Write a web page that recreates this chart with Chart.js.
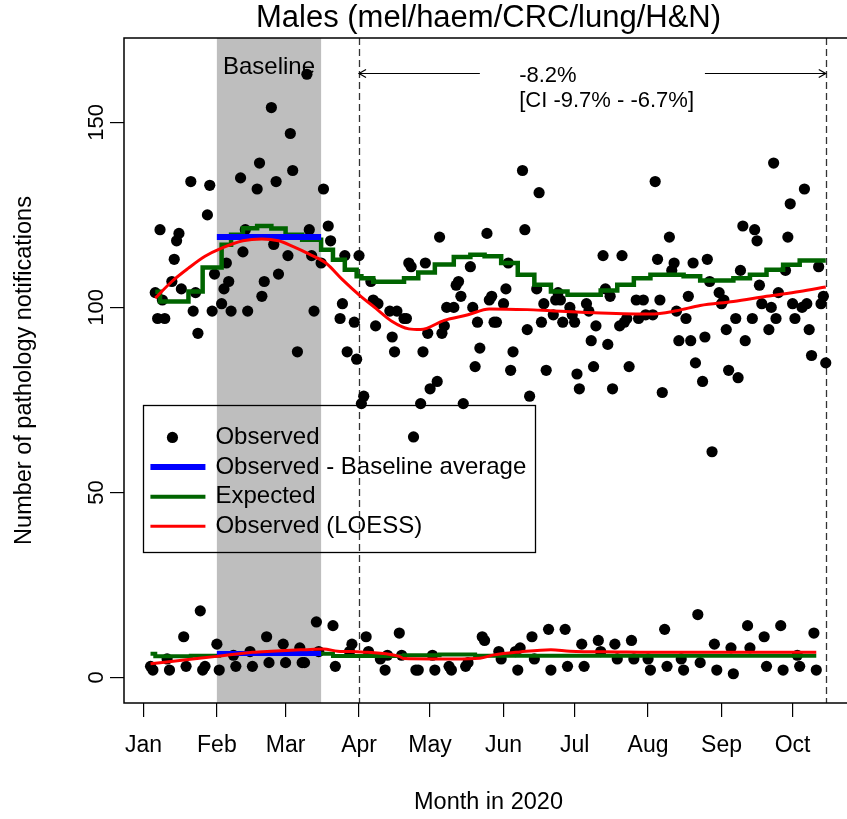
<!DOCTYPE html>
<html>
<head>
<meta charset="utf-8">
<script src="https://cdn.jsdelivr.net/npm/chart.js@4.4.0/dist/chart.umd.min.js"></script>
<style>
  html, body { margin: 0; padding: 0; background: #fff; overflow: hidden; }
</style>
</head>
<body>
<canvas id="myChart" width="860" height="819"></canvas>
<script>
// day of year 2020 (Jan 1 = 0)
var monthStarts = [0, 31, 60, 91, 121, 152, 182, 213, 244, 274];
var monthLabels = ['Jan', 'Feb', 'Mar', 'Apr', 'May', 'Jun', 'Jul', 'Aug', 'Sep', 'Oct'];
var yTicks = [0, 50, 100, 150];

// weekday notifications
var weekdayDays = [5, 6, 7, 8, 9, 12, 13, 14, 15, 16, 20, 21, 22, 23, 27, 28, 29, 30,
  33, 34, 35, 36, 37, 41, 42, 43, 44, 48, 49, 50, 51, 54, 55, 56, 57,
  61, 62, 63, 65, 69, 70, 71, 72, 75, 76, 78, 79, 83, 84, 85, 86, 89, 90, 91, 92, 93,
  96, 97, 98, 99, 104, 105, 106, 107, 110, 111, 112, 113, 114, 117, 118, 119, 120, 121,
  124, 125, 126, 127, 128, 131, 132, 133, 134, 135, 138, 139, 140, 141, 142, 145, 146, 147, 148, 149,
  152, 153, 154, 155, 156, 160, 161, 162, 163, 166, 167, 168, 169, 170, 173, 174, 175, 176, 177,
  180, 181, 182, 183, 184, 187, 188, 189, 190, 191, 194, 195, 196, 197, 198, 201, 202, 203, 204, 205,
  208, 209, 211, 212, 215, 216, 217, 218, 219, 222, 223, 224, 225, 226, 229, 230, 231, 232, 233,
  236, 237, 238, 239, 240, 243, 244, 245, 246, 247, 250, 251, 252, 253, 254, 257, 258, 259, 260, 261,
  264, 265, 266, 267, 268, 271, 272, 273, 274, 275, 278, 279, 280, 281, 282, 285, 286, 287, 288];
var weekdayCounts = [104, 97, 121, 102, 97, 107, 113, 118, 120, 105, 134, 99, 104, 93, 125, 133, 99, 109,
  101, 105, 112, 107, 99, 135, 115, 121, 99, 132, 139, 103, 107, 154, 117, 134, 109,
  114, 147, 137, 88, 163, 121, 114, 99, 112, 132, 122, 118, 97, 101, 114, 88, 96, 86, 114, 74, 76,
  107, 102, 95, 101, 99, 92, 88, 99, 97, 97, 112, 111, 65, 74, 88, 112, 93, 78,
  80, 119, 93, 95, 100, 100, 106, 107, 103, 74, 111, 100, 84, 96, 89, 120, 102, 103, 96, 96,
  101, 105, 112, 83, 88, 137, 121, 94, 76, 105, 131, 96, 101, 83, 98, 102, 104, 102, 96,
  100, 98, 96, 82, 78, 101, 99, 91, 84, 95, 114, 105, 90, 103, 78, 95, 114, 96, 97, 84,
  102, 97, 102, 98, 98, 134, 113, 102, 77, 119, 110, 112, 99, 91, 97, 103, 91, 112, 85,
  80, 92, 113, 107, 61, 104, 101, 102, 94, 83, 97, 81, 110, 122, 91, 97, 121, 118, 106, 101,
  94, 100, 139, 97, 104, 110, 119, 128, 101, 97, 100, 132, 101, 94, 87, 111, 101, 103, 85];

// weekend and public holiday notifications
var weekendDays = [3, 4, 10, 11, 17, 18, 24, 25, 26, 31, 32, 38, 39, 45, 46, 52, 53, 59, 60, 66, 67, 68,
  73, 74, 80, 81, 87, 88, 94, 95, 100, 102, 103, 108, 109, 115, 116, 122, 123, 129, 130, 136, 137,
  143, 144, 150, 151, 157, 158, 159, 164, 165, 171, 172, 178, 179, 185, 186, 192, 193, 199, 200,
  206, 207, 213, 214, 220, 221, 227, 228, 234, 235, 241, 242, 248, 249, 255, 256, 262, 263,
  269, 270, 276, 277, 283, 284];
var weekendCounts = [3, 2, 5, 2, 11, 3, 18, 2, 3, 9, 2, 6, 3, 7, 3, 11, 4, 9, 4, 8, 4, 4,
  15, 7, 14, 3, 7, 9, 11, 7, 5, 2, 6, 12, 6, 2, 2, 6, 2, 3, 2, 3, 4,
  11, 10, 7, 5, 7, 2, 8, 11, 5, 13, 2, 13, 3, 9, 3, 10, 7, 9, 5,
  10, 5, 5, 2, 13, 3, 5, 2, 17, 4, 9, 2, 8, 1, 14, 8, 11, 3,
  14, 2, 6, 3, 12, 2];

// expected counts (step changes)
var expectedDays = [5, 7, 19, 25, 33, 37, 42, 48, 54, 60, 67, 75, 80, 85, 90, 92, 97, 110, 116, 123,
  131, 138, 144, 151, 158, 165, 172, 179, 193, 200, 207, 214, 228, 235, 249, 256, 263, 270, 277, 288];
var expectedWeekday = [104.2, 101.6, 104.3, 110.8, 116.9, 119.6, 121.4, 122, 121.3, 119.6, 118.3, 115.6, 112.9, 110.2, 108.4, 107.9, 106.9, 107.9, 109.4, 111.6,
  113.6, 114.2, 113.8, 112, 108.8, 106.1, 104.3, 103.4, 104.6, 106.1, 107.9, 108.8, 108.4, 107.3, 107.9, 108.8, 110.2, 111.5, 112.7, 112.7];
var expectedLowDays = [3, 5, 20, 32, 80, 110, 125, 140, 284];
var expectedWeekend = [6.4, 5.7, 5.9, 6.4, 5.8, 6.0, 6.2, 5.9, 5.9];

// LOESS fit of observed counts
var loessDays = [5, 12, 19, 26, 33, 42, 50, 57, 63, 70, 77, 84, 91, 98, 105, 112, 117, 127, 137, 146,
  162, 172, 193, 214, 225, 235, 249, 263, 277, 288];
var loessWeekday = [102.5, 107, 110.6, 113.8, 116, 118, 118.5, 118, 116.5, 114.4, 112, 107.5, 103.4, 99.8, 96.2, 94.2, 94, 96.5, 98, 99.6,
  99.4, 99.1, 98.5, 98.2, 99.1, 100.5, 101.6, 103, 104.3, 105.5];
var loessLowDays = [3, 18, 31, 46, 54, 68, 76, 82, 92, 108, 110, 122, 131, 142, 148, 159, 172, 180, 200, 214, 284];
var loessWeekend = [3.7, 4.8, 5.7, 6.8, 7.1, 7.5, 7.7, 7.1, 6.9, 5.7, 5.1, 5, 5, 5.2, 6.1, 6.9, 7.5, 7.1, 6.9, 6.8, 6.8];

// baseline period and its averages
var baselineFrom = 31, baselineTo = 75;
var baselineWeekday = 119, baselineWeekend = 6.5;

// comparison period
var periodFrom = 91, periodTo = 288;
var arrowLevel = 163.3;
var arrowGap = [142, 237];
var changeLines = ['-8.2%', '[CI -9.7% - -6.7%]'];
var changeTextDay = 158.6;

var rFont = '"Liberation Sans", Arial, sans-serif';

function pairs(xs, ys) {
  var out = [];
  for (var i = 0; i < xs.length; i++) {
    out.push({ x: xs[i], y: ys[i] });
  }
  return out;
}

var rExtras = {
  id: 'rExtras',
  beforeDatasetsDraw: function(chart) {
    var ctx = chart.ctx, a = chart.chartArea;
    var xs = chart.scales.x, ys = chart.scales.y;
    ctx.save();

    // grey baseline band
    var b0 = xs.getPixelForValue(baselineFrom), b1 = xs.getPixelForValue(baselineTo);
    ctx.fillStyle = '#bebebe';
    ctx.fillRect(b0, a.top, b1 - b0, a.bottom - a.top);

    ctx.fillStyle = '#000';
    ctx.font = '24px ' + rFont;
    ctx.textAlign = 'center';
    ctx.textBaseline = 'middle';
    ctx.fillText('Baseline', (b0 + b1) / 2, a.top + 29);

    // dashed markers for the comparison period
    ctx.strokeStyle = '#333';
    ctx.lineWidth = 1.3;
    ctx.setLineDash([7, 4]);
    [periodFrom, periodTo].forEach(function(d) {
      var px = Math.round(xs.getPixelForValue(d)) + 0.5;
      ctx.beginPath();
      ctx.moveTo(px, a.top);
      ctx.lineTo(px, a.bottom);
      ctx.stroke();
    });
    ctx.setLineDash([]);

    // arrows spanning the period
    var ay = Math.round(ys.getPixelForValue(arrowLevel)) + 0.5;
    var p0 = xs.getPixelForValue(periodFrom), p1 = xs.getPixelForValue(periodTo);
    var g0 = xs.getPixelForValue(arrowGap[0]), g1 = xs.getPixelForValue(arrowGap[1]);
    ctx.strokeStyle = '#000';
    ctx.lineWidth = 1.2;
    ctx.beginPath();
    ctx.moveTo(g0, ay); ctx.lineTo(p0, ay);
    ctx.moveTo(p0 + 7, ay - 4); ctx.lineTo(p0, ay); ctx.lineTo(p0 + 7, ay + 4);
    ctx.moveTo(g1, ay); ctx.lineTo(p1, ay);
    ctx.moveTo(p1 - 7, ay - 4); ctx.lineTo(p1, ay); ctx.lineTo(p1 - 7, ay + 4);
    ctx.stroke();

    ctx.font = '22px ' + rFont;
    ctx.textAlign = 'left';
    var tx = xs.getPixelForValue(changeTextDay);
    ctx.fillText(changeLines[0], tx, ay + 2);
    ctx.fillText(changeLines[1], tx, ay + 27);
    ctx.restore();
  },
  afterDraw: function(chart) {
    var ctx = chart.ctx, a = chart.chartArea;
    var xs = chart.scales.x, ys = chart.scales.y;
    ctx.save();

    // plot box
    ctx.strokeStyle = '#000';
    ctx.lineWidth = 1.5;
    ctx.strokeRect(a.left, a.top, a.right - a.left, a.bottom - a.top);

    // y tick labels, parallel to the axis
    ctx.fillStyle = '#000';
    ctx.font = '22px ' + rFont;
    ctx.textAlign = 'center';
    ctx.textBaseline = 'middle';
    yTicks.forEach(function(v) {
      ctx.save();
      ctx.translate(a.left - 27, ys.getPixelForValue(v));
      ctx.rotate(-Math.PI / 2);
      ctx.fillText(String(v), 0, 0);
      ctx.restore();
    });

    // axis titles
    ctx.font = '23.5px ' + rFont;
    ctx.save();
    ctx.translate(25, (a.top + a.bottom) / 2);
    ctx.rotate(-Math.PI / 2);
    ctx.fillText('Number of pathology notifications', 0, 0);
    ctx.restore();
    ctx.fillText('Month in 2020', (a.left + a.right) / 2, 803);

    ctx.font = '31px ' + rFont;
    ctx.fillText('Males (mel/haem/CRC/lung/H&N)', (a.left + a.right) / 2, 18);

    // legend
    var lx = xs.getPixelForValue(0), ly = ys.getPixelForValue(73.5);
    ctx.lineWidth = 1.3;
    ctx.strokeRect(Math.round(lx) + 0.5, Math.round(ly) + 0.5, 392, 147);
    var rows = [
      { text: 'Observed', dot: true },
      { text: 'Observed - Baseline average', color: '#0000ff', width: 6 },
      { text: 'Expected', color: '#006400', width: 4 },
      { text: 'Observed (LOESS)', color: '#ff0000', width: 3 }
    ];
    ctx.font = '24px ' + rFont;
    ctx.textAlign = 'left';
    rows.forEach(function(r, i) {
      var ry = ly + 32 + i * 29.6;
      if (r.dot) {
        ctx.fillStyle = '#000';
        ctx.beginPath();
        ctx.arc(lx + 29, ry, 5.6, 0, Math.PI * 2);
        ctx.fill();
      } else {
        ctx.strokeStyle = r.color;
        ctx.lineWidth = r.width;
        ctx.beginPath();
        ctx.moveTo(lx + 7, ry);
        ctx.lineTo(lx + 62, ry);
        ctx.stroke();
      }
      ctx.fillStyle = '#000';
      ctx.fillText(r.text, lx + 72, ry);
    });
    ctx.restore();
  }
};

var dotStyle = { showLine: false, pointRadius: 5.6, pointHoverRadius: 5.6, backgroundColor: '#000', borderWidth: 0, order: 10 };

function lineSet(data, color, width, extra) {
  var ds = { data: data, showLine: true, pointRadius: 0, borderColor: color, borderWidth: width, fill: false };
  for (var k in extra) ds[k] = extra[k];
  return ds;
}

var ctx = document.getElementById('myChart').getContext('2d');
var chart = new Chart(ctx, {
  type: 'scatter',
  data: {
    datasets: [
      Object.assign({ label: 'Observed', data: pairs(weekdayDays, weekdayCounts) }, dotStyle),
      Object.assign({ label: 'Observed weekend', data: pairs(weekendDays, weekendCounts) }, dotStyle),
      lineSet(pairs(expectedDays, expectedWeekday), '#006400', 4.5, { label: 'Expected', stepped: true, order: 3 }),
      lineSet(pairs(expectedLowDays, expectedWeekend), '#006400', 4, { label: 'Expected weekend', stepped: true, order: 3 }),
      lineSet([{ x: baselineFrom, y: baselineWeekday }, { x: baselineTo, y: baselineWeekday }], '#0000ff', 6, { label: 'Baseline average', order: 2 }),
      lineSet([{ x: baselineFrom, y: baselineWeekend }, { x: baselineTo, y: baselineWeekend }], '#0000ff', 5, { label: 'Baseline average weekend', order: 2 }),
      lineSet(pairs(loessDays, loessWeekday), '#ff0000', 3, { label: 'LOESS', cubicInterpolationMode: 'monotone', order: 1 }),
      lineSet(pairs(loessLowDays, loessWeekend), '#ff0000', 3, { label: 'LOESS weekend', cubicInterpolationMode: 'monotone', order: 1 })
    ]
  },
  options: {
    responsive: false,
    animation: false,
    devicePixelRatio: 1,
    layout: { padding: { top: 38, right: 7, left: 0, bottom: 0 } },
    plugins: { legend: { display: false }, tooltip: { enabled: false }, title: { display: false } },
    scales: {
      x: {
        type: 'linear',
        min: -8.2,
        max: 299.5,
        afterBuildTicks: function(scale) {
          scale.ticks = monthStarts.map(function(v) { return { value: v }; });
        },
        afterFit: function(scale) { scale.height = 116; },
        grid: { drawOnChartArea: false, drawTicks: true, tickLength: 14, color: '#000', lineWidth: 1.2 },
        border: { display: false },
        ticks: {
          autoSkip: false,
          maxRotation: 0,
          padding: 15,
          color: '#000',
          font: { family: rFont, size: 23 },
          callback: function(v) { return monthLabels[monthStarts.indexOf(v)]; }
        }
      },
      y: {
        type: 'linear',
        min: -6.9,
        max: 172.8,
        afterBuildTicks: function(scale) {
          scale.ticks = yTicks.map(function(v) { return { value: v }; });
        },
        afterFit: function(scale) { scale.width = 124; },
        grid: { drawOnChartArea: false, drawTicks: true, tickLength: 14, color: '#000', lineWidth: 1.2 },
        border: { display: false },
        ticks: { display: false }
      }
    }
  },
  plugins: [rExtras]
});
</script>
</body>
</html>
